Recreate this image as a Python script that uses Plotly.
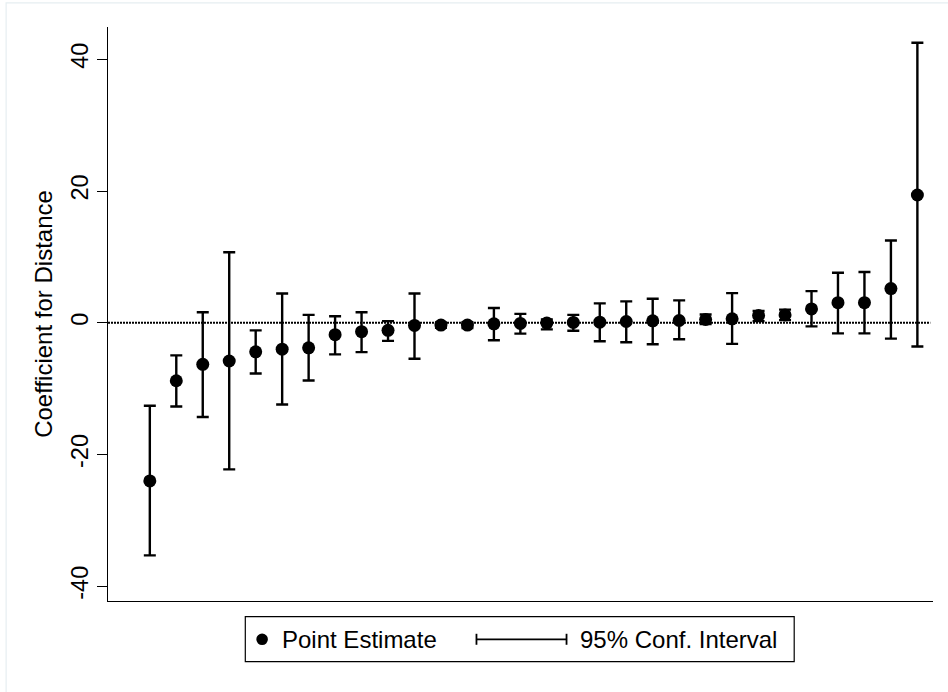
import plotly.graph_objects as go

# ---- data ----
rank = list(range(1, 31))
estimate = [-24.0, -8.8, -6.3, -5.8, -4.4, -4.0, -3.8, -1.8, -1.35, -1.15,
            -0.4, -0.35, -0.35, -0.15, -0.1, -0.05, 0.05, 0.1, 0.2, 0.3,
            0.35, 0.5, 0.6, 1.1, 1.2, 2.1, 3.05, 3.05, 5.2, 19.4]
ci_low = [-35.3, -12.7, -14.3, -22.25, -7.7, -12.4, -8.75, -4.8, -4.45, -2.75,
          -5.45, -0.75, -0.8, -2.65, -1.65, -1.0, -1.2, -2.8, -2.95, -3.25,
          -2.5, -0.2, -3.2, 0.25, 0.4, -0.55, -1.6, -1.6, -2.4, -3.6]
ci_high = [-12.6, -4.95, 1.6, 10.7, -1.15, 4.45, 1.2, 1.0, 1.6, 0.25,
           4.45, 0.05, 0.1, 2.25, 1.35, 0.5, 1.2, 2.95, 3.25, 3.65,
           3.4, 1.25, 4.5, 1.8, 2.0, 4.8, 7.6, 7.7, 12.5, 42.5]
y_ticks = [-40, -20, 0, 20, 40]
y_title = "Coefficient for Distance"
legend_labels = ["Point Estimate", "95% Conf. Interval"]

FONT = "Liberation Sans, Arial, sans-serif"
W_FIG, H_FIG = 948, 692
L, R, T, B = 108.3, 932.7, 26.7, 601.0
PW, PH = R - L, B - T


def px(x):
    return (x - L) / PW


def py(y):
    return (B - y) / PH


err_plus = [h - e for h, e in zip(ci_high, estimate)]
err_minus = [e - l for e, l in zip(estimate, ci_low)]

fig = go.Figure()
fig.add_trace(go.Scatter(
    x=rank, y=estimate, mode="markers",
    marker=dict(size=13, color="black", line=dict(width=0)),
    error_y=dict(type="data", symmetric=False, array=err_plus,
                 arrayminus=err_minus, color="black", thickness=2.4, width=6),
    showlegend=False, hoverinfo="skip",
))

shapes = []
# zero reference line (dotted)
shapes.append(dict(type="line", xref="paper", yref="y", x0=0, x1=px(930), y0=0, y1=0,
                   line=dict(color="black", width=2, dash="2px,1px"), layer="below"))
# faint outer frame
shapes.append(dict(type="rect", xref="paper", yref="paper",
                   x0=px(6.5), x1=px(1000), y0=py(2.5), y1=py(760),
                   line=dict(color="#e6eef1", width=1.2), layer="below"))
# legend box
shapes.append(dict(type="rect", xref="paper", yref="paper",
                   x0=px(245.5), x1=px(794), y0=py(616.7), y1=py(661.7),
                   line=dict(color="black", width=1.2), fillcolor="white"))
# legend dot
shapes.append(dict(type="circle", xref="paper", yref="paper",
                   x0=px(262.3 - 5.8), x1=px(262.3 + 5.8),
                   y0=py(639.3 + 5.8), y1=py(639.3 - 5.8),
                   line=dict(width=0), fillcolor="black"))
# legend CI glyph
ly = 639.3
shapes.append(dict(type="line", xref="paper", yref="paper", x0=px(476), x1=px(567),
                   y0=py(ly), y1=py(ly), line=dict(color="black", width=1.8)))
for xx in (476.5, 566.5):
    shapes.append(dict(type="line", xref="paper", yref="paper", x0=px(xx), x1=px(xx),
                       y0=py(ly - 5.5), y1=py(ly + 5.5), line=dict(color="black", width=1.8)))

annotations = [
    dict(text=legend_labels[0], xref="paper", yref="paper", x=px(280), y=py(639.3),
         xanchor="left", yanchor="middle", showarrow=False,
         font=dict(family=FONT, size=24, color="black")),
    dict(text=legend_labels[1], xref="paper", yref="paper", x=px(578), y=py(639.3),
         xanchor="left", yanchor="middle", showarrow=False,
         font=dict(family=FONT, size=24, color="black")),
]

fig.update_layout(
    width=W_FIG, height=H_FIG,
    margin=dict(l=L, r=W_FIG - R, t=T, b=H_FIG - B, pad=0),
    paper_bgcolor="white", plot_bgcolor="white",
    font=dict(family=FONT, size=24, color="black"),
    shapes=shapes, annotations=annotations,
    showlegend=False,
    xaxis=dict(range=[-0.58, 30.59], showgrid=False, zeroline=False,
               showticklabels=False, ticks="", showline=True,
               linecolor="black", linewidth=1.2),
    yaxis=dict(range=[-42.23, 44.9], showgrid=False, zeroline=False,
               tickvals=y_ticks, ticktext=[str(v) for v in y_ticks],
               ticks="outside", ticklen=10, tickwidth=1.2, tickcolor="black",
               tickangle=-90, showline=True, linecolor="black", linewidth=1.2,
               tickfont=dict(family=FONT, size=23.5, color="black"),
               title=dict(text=y_title, standoff=7,
                          font=dict(family=FONT, size=24, color="black"))),
)

fig.write_html("out.html")
